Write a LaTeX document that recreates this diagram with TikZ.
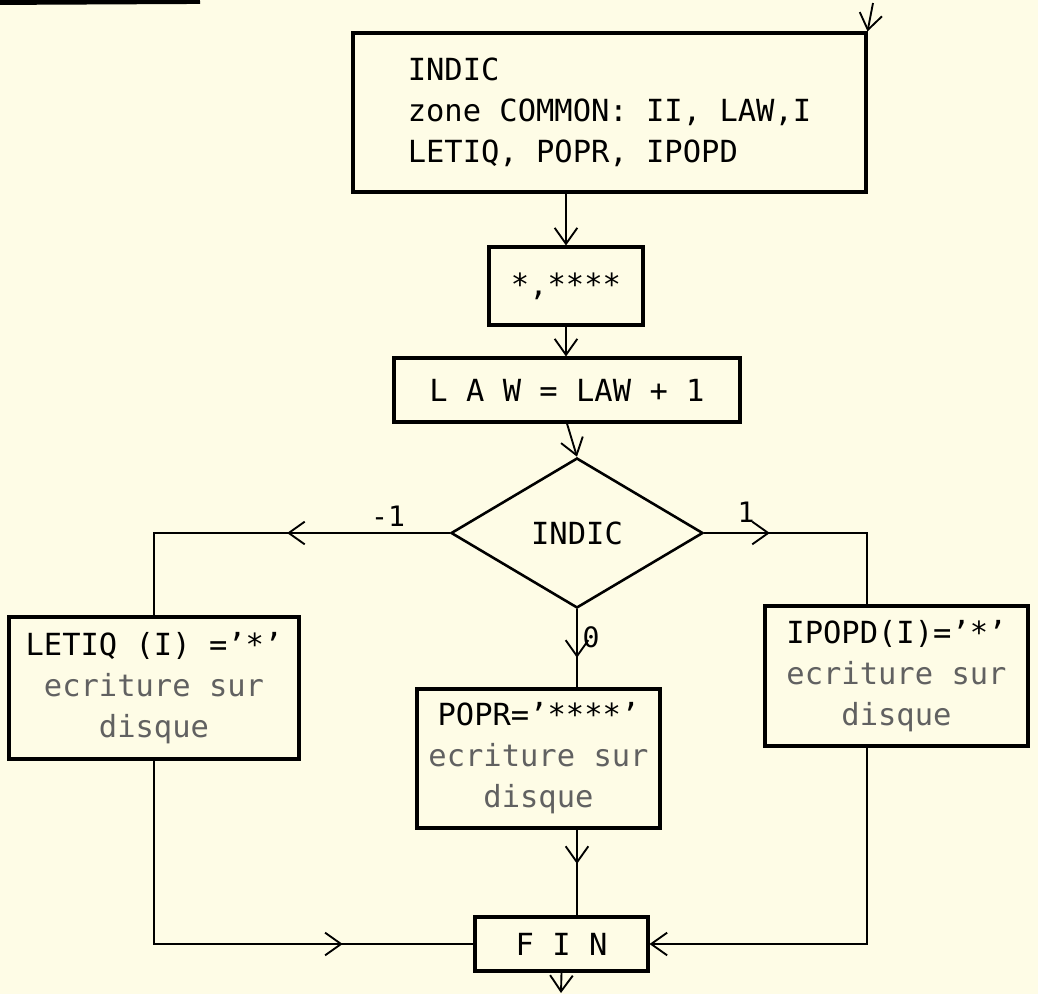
\documentclass[tikz,border=0pt]{standalone}
\usepackage{fontspec}
\setmonofont{DejaVu Sans Mono}
\usetikzlibrary{arrows.meta,shapes.geometric,decorations.markings}
\definecolor{paper}{RGB}{254,252,230}
\newcommand\faint[1]{\textcolor{black!62}{#1}}
\tikzset{
    box/.style={
        draw,
        line width=1.3pt,
        inner sep=0pt,
        font=\ttfamily\fontsize{13}{17.5}\selectfont
    },
    test/.style={
        draw,
        diamond,
        line width=1.1pt,
        inner sep=0pt,
        aspect=1.68,
        minimum width=3.78cm,
        minimum height=2.25cm,
        font=\ttfamily\fontsize{13}{17.5}\selectfont
    },
    flow/.style={line width=0.8pt},
    tip/.style={-{Straight Barb[length=2.4mm,width=3.4mm]}},
    flow arrow/.style={
        postaction=decorate,
        decoration={markings,
        mark=at position #1 with {\arrow{Straight Barb[length=2.4mm,width=3.4mm]}}
        }
    },
    branch/.style={font=\ttfamily\fontsize{12}{14}\selectfont}
}

\begin{document}
\begin{tikzpicture}[x=0.015cm,y=-0.015cm]
    \fill[paper] (0,0) rectangle (1038,994);
    \useasboundingbox (0,0) rectangle (1038,994);
    % scrap of a line at the top edge
    \draw[line width=2.5pt] (0,2) -- (200,1);

    \node[box, minimum width=7.695cm, minimum height=2.385cm, align=left] (top) at (609.5,112.5)
        {INDIC\\zone COMMON: II, LAW,I\\LETIQ, POPR, IPOPD};
    \node[box, minimum width=2.31cm, minimum height=1.17cm] (stars) at (566,286) {*,****};
    \node[box, minimum width=5.19cm, minimum height=0.96cm] (law) at (567,390) {L A W = LAW + 1};
    \node[test] (dia) at (577,533) {INDIC};
    \node[box, minimum width=4.35cm, minimum height=2.13cm, align=center] (letiq) at (154,688)
        {LETIQ (I) =’*’\\\faint{ecriture sur}\\\faint{disque}};
    \node[box, minimum width=3.645cm, minimum height=2.085cm, align=center] (popr) at (538.5,758.5)
        {POPR=’****’\\\faint{ecriture sur}\\\faint{disque}};
    \node[box, minimum width=3.945cm, minimum height=2.1cm, align=center] (ipopd) at (896.5,676)
        {IPOPD(I)=’*’\\\faint{ecriture sur}\\\faint{disque}};
    \node[box, minimum width=2.595cm, minimum height=0.81cm] (fin) at (561.5,944) {F I N};

    \coordinate (entry) at (873,3);
    \coordinate (rcorner) at (867,533);
    \coordinate (exit) at (561,993);

    % main line
    \draw[flow, tip] (entry) -- (top.north east);
    \draw[flow, tip] (stars.north |- top.south) -- (stars.north);
    \draw[flow, tip] (stars.south) -- (stars.south |- law.north);
    \draw[flow, tip] (law.south) -- (dia.north);

    % the three branches
    \draw[flow, flow arrow=0.43] (dia.west) -| (letiq.north);
    \draw[flow, flow arrow=0.28] (dia.east) -- (rcorner) -- (rcorner |- ipopd.north);
    \draw[flow, flow arrow=0.62] (dia.south) -- (dia.south |- popr.north);
    \node[branch] (lminus) at (388,516) {-1};
    \node[branch] (lone) at (746,512) {1};
    \node[branch] (lzero) at (591,637) {0};

    % back to the end
    \draw[flow, flow arrow=0.74] (letiq.south) |- (fin.west);
    \draw[flow, flow arrow=0.4] (dia.south |- popr.south) -- (dia.south |- fin.north);
    \draw[flow, tip] (rcorner |- ipopd.south) -- (rcorner |- fin.east) -- (fin.east);
    \draw[flow, tip] (fin.south) -- (exit);
\end{tikzpicture}
\end{document}
